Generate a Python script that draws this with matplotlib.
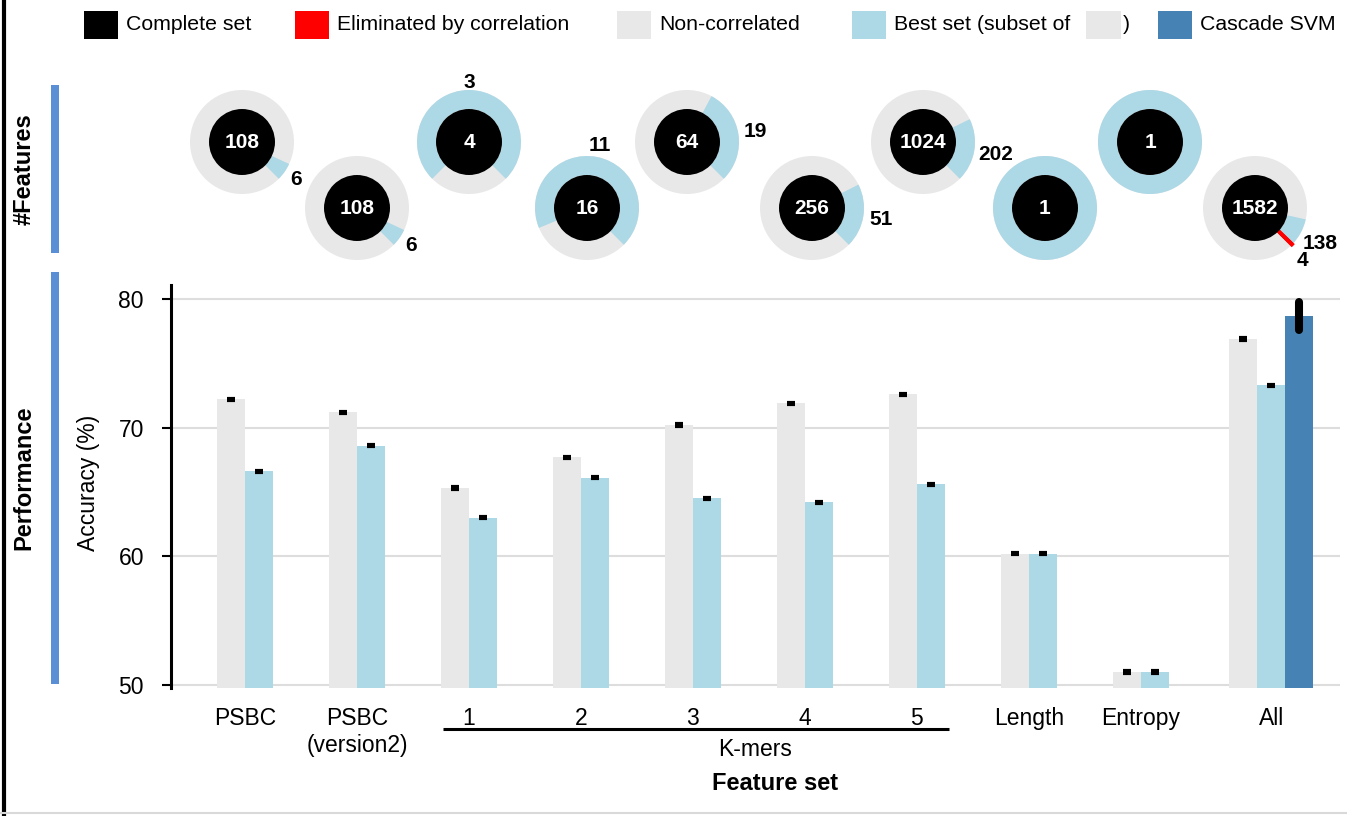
import matplotlib
matplotlib.use("Agg")
import matplotlib.pyplot as plt
from matplotlib.patches import Wedge, Circle, Rectangle
import numpy as np

plt.rcParams['font.family'] = ['Liberation Sans', 'DejaVu Sans']

# data
categories = ["PSBC", "PSBC\n(version2)", "1", "2", "3", "4", "5", "Length", "Entropy", "All"]
acc_noncorr = [72.2, 71.2, 65.3, 67.7, 70.2, 71.9, 72.6, 60.2, 51.0, 76.9]
acc_best = [66.6, 68.6, 63.0, 66.1, 64.5, 64.2, 65.6, 60.2, 51.0, 73.3]
err_noncorr = [0.05] * 10
err_best = [0.05] * 10
cascade_acc = 78.7
cascade_err = 1.1

n_complete = [108, 108, 4, 16, 64, 256, 1024, 1, 1, 1582]
n_best = [6, 6, 3, 11, 19, 51, 202, 1, 1, 138]
n_elim = [0, 0, 0, 0, 0, 0, 0, 0, 0, 4]

C_BLACK = "black"
C_RED = "#ff0000"
C_GREY = "#e8e8e8"
C_LBLUE = "#add8e6"
C_STEEL = "#4682b4"
C_SIDE = "#5a8fd6"

W, H = 1347, 816
fig = plt.figure(figsize=(W / 100, H / 100), dpi=100)

# bar panel
ax = fig.add_axes([171 / W, 1 - 688 / H, (1340 - 171) / W, (688 - 285) / H])
ax.patch.set_alpha(0)
pos = np.array([0, 1, 2, 3, 4, 5, 6, 7, 8, 9.04])
w = 0.25
ax.bar(pos - w / 2, acc_noncorr, w, color=C_GREY, zorder=2)
ax.bar(pos + w / 2, acc_best, w, color=C_LBLUE, zorder=2)
ax.bar(pos[-1] + 1.5 * w, cascade_acc, w, color=C_STEEL, zorder=2)
ax.errorbar(pos - w / 2, acc_noncorr, yerr=err_noncorr, fmt='none', ecolor='black',
            elinewidth=1, capsize=3.2, capthick=3, zorder=3)
ax.errorbar(pos + w / 2, acc_best, yerr=err_best, fmt='none', ecolor='black',
            elinewidth=1, capsize=3.2, capthick=3, zorder=3)
eb = ax.errorbar([pos[-1] + 1.5 * w], [cascade_acc], yerr=[cascade_err], fmt='none',
                 ecolor='black', elinewidth=5.8, capsize=0, zorder=3)
for lc in eb.lines[2]:
    lc.set_capstyle('round')

ax.set_ylim(49.75, 81.1)
ax.set_xlim(-0.66, 9.78)
ax.set_yticks([50, 60, 70, 80])
ax.yaxis.grid(True, color="#dddddd", lw=1.5, zorder=0)
ax.set_axisbelow(True)
for s in ["top", "right", "bottom"]:
    ax.spines[s].set_visible(False)
ax.spines["left"].set_linewidth(2.2)
ax.tick_params(axis='y', length=6.5, width=1.5, pad=13, labelsize=16.5)
ticks_x = list(pos[:-1]) + [pos[-1] + w / 2]
ax.set_xticks(ticks_x)
ax.set_xticklabels(categories, fontsize=16.5, linespacing=1.2)
ax.tick_params(axis='x', length=0, pad=14)

# overlay in pixel units (y measured from top)
ov = fig.add_axes([0, 0, 1, 1], zorder=5)
ov.set_xlim(0, W)
ov.set_ylim(0, H)
ov.axis('off')
ov.patch.set_alpha(0)


def Y(y):
    return H - y


# donuts
donut_x = [242, 357, 469, 587, 687, 812, 923, 1045, 1150, 1255]
donut_y = [142, 208] * 5
r_out, r_in = 52, 33
for i in range(len(n_complete)):
    cx, cy = donut_x[i], Y(donut_y[i])
    tot = n_complete[i]
    a0 = -45.0
    a_e = a0 + 360.0 * n_elim[i] / tot
    a_b = a_e + 360.0 * n_best[i] / tot
    ov.add_patch(Wedge((cx, cy), r_out, 0, 360, width=r_out - r_in, color=C_GREY, lw=0))
    if n_best[i] >= tot:
        ov.add_patch(Wedge((cx, cy), r_out, 0, 360, width=r_out - r_in, color=C_LBLUE, lw=0))
    else:
        ov.add_patch(Wedge((cx, cy), r_out, a_e, a_b, width=r_out - r_in, color=C_LBLUE, lw=0))
    if n_elim[i] > 0:
        ov.add_patch(Wedge((cx, cy), r_out, a0, a_e, width=r_out - r_in,
                           facecolor=C_RED, edgecolor=C_RED, lw=2.5))
    ov.add_patch(Circle((cx, cy), r_in, color=C_BLACK, lw=0))
    ov.text(cx, cy, str(tot), color='white', fontsize=15, fontweight='bold',
            ha='center', va='center')
    if n_best[i] < tot:
        lab = str(n_best[i])
        am = np.deg2rad((a_e + a_b) / 2)
        r_lab = 62 + 4 * len(lab) - 6 * max(np.sin(am), 0)
        ov.text(cx + r_lab * np.cos(am), cy + r_lab * np.sin(am), lab,
                fontsize=15, fontweight='bold', ha='center', va='center')
    if n_elim[i] > 0:
        am = np.deg2rad((a0 + a_e) / 2 - 1)
        ov.text(cx + 68 * np.cos(am), cy + 68 * np.sin(am) - 4, str(n_elim[i]),
                fontsize=15, fontweight='bold', ha='center', va='center')

# legend
leg_items = [(84, C_BLACK, "Complete set"), (295, C_RED, "Eliminated by correlation"),
             (617, C_GREY, "Non-correlated"), (852, C_LBLUE, "Best set (subset of"),
             (1158, C_STEEL, "Cascade SVM")]
for x0, col, lab in leg_items:
    ov.add_patch(Rectangle((x0, Y(39)), 34, 28, color=col, lw=0))
    ov.text(x0 + 42, Y(25), lab, fontsize=15.3, ha='left', va='center')
ov.add_patch(Rectangle((1086, Y(39)), 35, 28, color=C_GREY, lw=0))
ov.text(1123, Y(25), ")", fontsize=15.3, ha='left', va='center')

# side labels
ov.add_patch(Rectangle((51, Y(253)), 8, 253 - 85, color=C_SIDE, lw=0))
ov.add_patch(Rectangle((51, Y(684)), 8, 684 - 272, color=C_SIDE, lw=0))
ov.text(24, Y(169), "#Features", rotation=90, fontsize=17, fontweight='bold',
        ha='center', va='center')
ov.text(24, Y(478), "Performance", rotation=90, fontsize=17, fontweight='bold',
        ha='center', va='center')
ov.text(88, Y(483), "Accuracy (%)", rotation=90, fontsize=16.5, ha='center', va='center')

# k-mers bracket and axis title
ov.plot([443, 949], [Y(729), Y(729)], color='black', lw=2.2, solid_capstyle='butt')
ov.text(755, Y(749), "K-mers", fontsize=16.5, ha='center', va='center')
ov.text(775, Y(784), "Feature set", fontsize=17, fontweight='bold', ha='center', va='center')

# frame lines
ov.plot([4, 4], [0, H], color='black', lw=3)
ov.plot([0, W], [Y(813), Y(813)], color='#d9d9d9', lw=1.5)

fig.savefig("out.png", dpi=100)
